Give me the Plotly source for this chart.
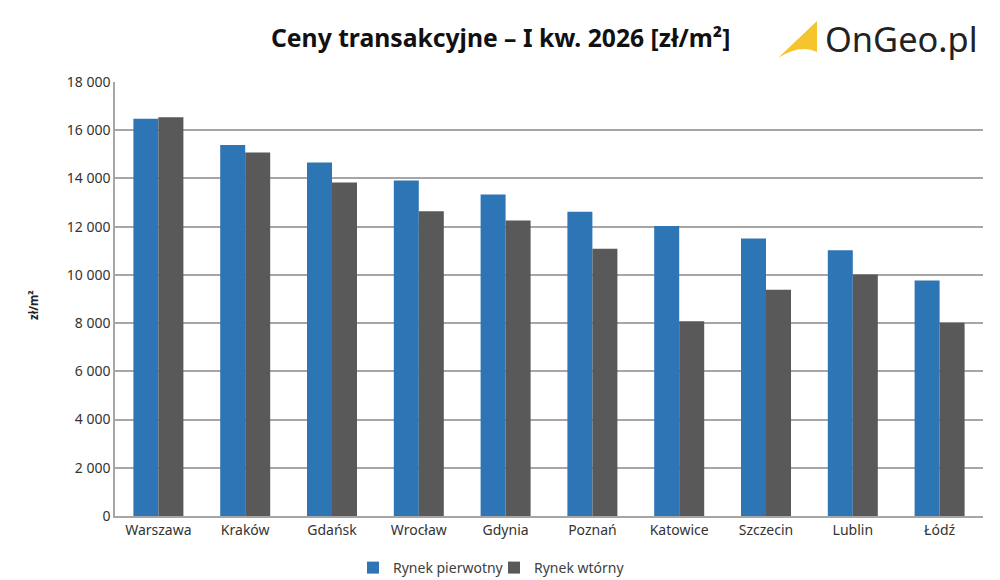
import plotly.graph_objects as go

cities = ["Warszawa", "Kraków", "Gdańsk", "Wrocław", "Gdynia", "Poznań", "Katowice", "Szczecin", "Lublin", "Łódź"]
primary = [16480, 15390, 14660, 13910, 13330, 12620, 12030, 11510, 11020, 9770]
secondary = [16540, 15080, 13830, 12640, 12260, 11080, 8080, 9380, 10020, 8020]
tick_vals = [0, 2000, 4000, 6000, 8000, 10000, 12000, 14000, 16000, 18000]
tick_text = ["0", "2 000", "4 000", "6 000", "8 000", "10 000", "12 000", "14 000", "16 000", "18 000"]

FONT = "Noto Sans"
PAGE = 8  # the page's own body margin
W, H = 1000, 580
L, R, T, B = 115, 983, 82, 516


def px(x):
    return (x - L) / (R - L)


def py(y):
    return (B - y) / (B - T)


fig = go.Figure()
fig.add_bar(name="Rynek pierwotny", x=cities, y=primary, marker=dict(color="#2e75b6", line_width=0))
fig.add_bar(name="Rynek wtórny", x=cities, y=secondary, marker=dict(color="#595959", line_width=0))

logo = (f"M {px(778)} {py(58)} L {px(817)} {py(21)} L {px(817)} {py(52)} "
        f"Q {px(800)} {py(44)} {px(778)} {py(58)} Z")

fig.update_layout(
    width=W - PAGE, height=H - PAGE, autosize=False,
    margin=dict(l=L - PAGE, r=W - R, t=T - PAGE, b=H - B, autoexpand=False),
    paper_bgcolor="white", plot_bgcolor="white",
    barmode="group", bargap=0.424, bargroupgap=0,
    font=dict(family=FONT, color="#333333", size=14),
    showlegend=True,
    legend=dict(orientation="h", x=px(353), xanchor="left", y=py(568), yanchor="middle",
                font=dict(size=14, color="#404040"), itemwidth=30, traceorder="normal",
                entrywidth=96, entrywidthmode="pixels", bgcolor="rgba(0,0,0,0)"),
    xaxis=dict(showgrid=False, showline=True, linecolor="#a6a6a6", linewidth=1.5,
               ticks="", tickfont=dict(size=14, color="#333333"), ticklabelstandoff=0, fixedrange=True),
    yaxis=dict(range=[0, 18000], tickmode="array", tickvals=tick_vals, ticktext=tick_text,
               showgrid=True, gridcolor="#a6a6a6", gridwidth=1.5, showline=True, linecolor="#a6a6a6", linewidth=1.5,
               zeroline=False, ticks="", tickfont=dict(size=14, color="#333333"), ticklabelstandoff=0),
    annotations=[
        dict(text="<b>Ceny transakcyjne – I kw. 2026 [zł/m²]</b>", xref="paper", yref="paper", x=px(500), y=py(37),
             xanchor="center", yanchor="middle", showarrow=False, font=dict(size=24.7, color="#111111", family=FONT)),
        dict(text="<b>zł/m²</b>", xref="paper", yref="paper", x=px(33), y=py(305), textangle=-90,
             xanchor="center", yanchor="middle", showarrow=False, font=dict(size=11.5, color="#222222", family=FONT)),
        dict(text="OnGeo.pl", xref="paper", yref="paper", x=px(823), y=py(38),
             xanchor="left", yanchor="middle", showarrow=False, font=dict(size=34.4, color="#222222", family=FONT)),
    ],
    shapes=[dict(type="path", xref="paper", yref="paper", line_width=0, fillcolor="#f6c42c", path=logo)],
)
fig.write_html("out.html")
